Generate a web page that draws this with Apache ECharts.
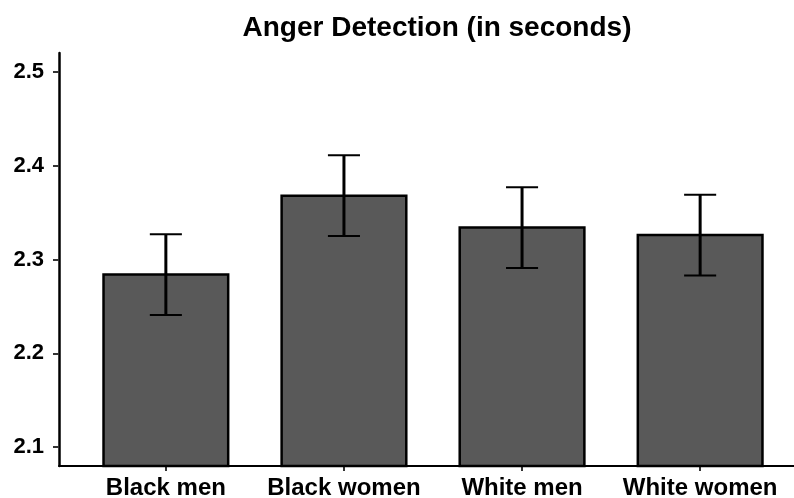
<!DOCTYPE html>
<html>
<head>
<meta charset="utf-8">
<script src="https://cdn.jsdelivr.net/npm/echarts@6/dist/echarts.min.js"></script>
<style>
  html, body { margin: 0; padding: 0; background: #ffffff; }
  #chart { width: 794px; height: 498px; }
</style>
</head>
<body>
<div id="chart"></div>
<script>
// Mean anger-detection time per target group, with error-bar bounds
const categories = ['Black men', 'Black women', 'White men', 'White women'];
const categoryPositions = [1, 2, 3, 4];
const meanSeconds = [2.284, 2.368, 2.334, 2.326];
const errorLow = [2.241, 2.325, 2.291, 2.283];
const errorHigh = [2.327, 2.411, 2.377, 2.369];
const yTicks = [2.1, 2.2, 2.3, 2.4, 2.5];

const Y_MIN = 2.08, Y_MAX = 2.52;
const X_MIN = 0.4, X_MAX = 4.6;
const BAR_WIDTH = 0.7;      // in category units
const CAP_WIDTH = 0.18;     // in category units
const FONT = '"Liberation Sans", Arial, sans-serif';

const barData = categoryPositions.map((p, i) => [p, meanSeconds[i]]);
const errData = categoryPositions.map((p, i) => [p, errorLow[i], errorHigh[i]]);

const chart = echarts.init(document.getElementById('chart'), null, { renderer: 'canvas' });

chart.setOption({
  backgroundColor: '#ffffff',
  animation: false,
  title: {
    text: 'Anger Detection (in seconds)',
    left: 432,
    top: 9,
    textAlign: 'center',
    textStyle: { fontFamily: FONT, fontSize: 28, fontWeight: 'bold', color: '#000' }
  },
  grid: { left: 59, top: 53, width: 748, height: 413, containLabel: false, outerBoundsMode: 'none' },
  xAxis: {
    type: 'value',
    min: X_MIN,
    max: X_MAX,
    axisLine: { show: true, onZero: false, lineStyle: { color: '#000', width: 2 } },
    axisTick: { show: true, customValues: categoryPositions, length: 5, lineStyle: { color: '#333', width: 2 } },
    axisLabel: {
      customValues: categoryPositions,
      formatter: v => categories[Math.round(v) - 1],
      fontFamily: FONT, fontSize: 24, fontWeight: 'bold', color: '#000', margin: 10
    },
    splitLine: { show: false }
  },
  yAxis: {
    type: 'value',
    min: Y_MIN,
    max: Y_MAX,
    axisLine: { show: true, onZero: false, lineStyle: { color: '#000', width: 2.5 } },
    axisTick: { show: true, customValues: yTicks, length: 6, lineStyle: { color: '#333', width: 2 } },
    axisLabel: {
      customValues: yTicks,
      formatter: v => v.toFixed(1),
      fontFamily: FONT, fontSize: 22, fontWeight: 'bold', color: '#000', margin: 15
    },
    splitLine: { show: false }
  },
  series: [
    {
      type: 'custom',
      name: 'mean',
      data: barData,
      encode: { x: 0, y: 1 },
      renderItem: (params, api) => {
        const x = api.value(0);
        const top = api.coord([x, api.value(1)]);
        const base = api.coord([x, Y_MIN]);
        const w = api.size([BAR_WIDTH, 0])[0];
        return {
          type: 'rect',
          shape: { x: top[0] - w / 2, y: top[1], width: w, height: base[1] - top[1] },
          style: { fill: '#595959', stroke: '#000', lineWidth: 2.5 }
        };
      },
      z: 2
    },
    {
      type: 'custom',
      name: 'error',
      data: errData,
      encode: { x: 0, y: [1, 2] },
      renderItem: (params, api) => {
        const x = api.value(0);
        const lo = api.coord([x, api.value(1)]);
        const hi = api.coord([x, api.value(2)]);
        const half = api.size([CAP_WIDTH, 0])[0] / 2;
        const stroke = { stroke: '#000', lineWidth: 2 };
        return {
          type: 'group',
          children: [
            { type: 'line', shape: { x1: lo[0], y1: lo[1], x2: hi[0], y2: hi[1] }, style: { stroke: '#000', lineWidth: 3 } },
            { type: 'line', shape: { x1: hi[0] - half, y1: hi[1], x2: hi[0] + half, y2: hi[1] }, style: stroke },
            { type: 'line', shape: { x1: lo[0] - half, y1: lo[1], x2: lo[0] + half, y2: lo[1] }, style: stroke }
          ]
        };
      },
      z: 3
    }
  ]
});
</script>
</body>
</html>
